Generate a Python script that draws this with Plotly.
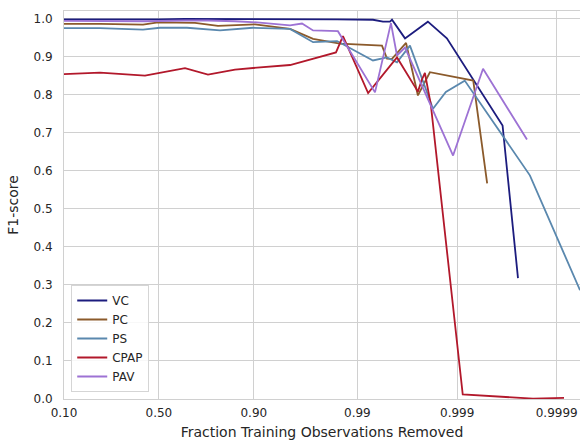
import numpy as np
import plotly.graph_objects as go

# ---- data (fractions of training observations removed, F1 scores) ----
vc_x = [0.1, 0.2036, 0.409, 0.506, 0.6467, 0.757, 0.8535, 0.9065, 0.9542, 0.9726, 0.9841,
        0.99301, 0.99445, 0.99528, 0.99549, 0.99666, 0.99803, 0.99873, 0.99965, 0.999755]
vc_y = [0.998, 0.998, 0.997, 0.998, 0.999, 0.999, 0.998, 0.998, 0.998, 0.998, 0.998,
        0.997, 0.992, 0.992, 0.997, 0.948, 0.992, 0.948, 0.719, 0.318]

pc_x = [0.1, 0.2036, 0.409, 0.4948, 0.6977, 0.797, 0.9025, 0.9542, 0.9726, 0.9851,
        0.99432, 0.99494, 0.99549, 0.99674, 0.99752, 0.99812, 0.99931, 0.99950]
pc_y = [0.986, 0.986, 0.984, 0.990, 0.989, 0.981, 0.985, 0.973, 0.947, 0.934,
        0.929, 0.895, 0.894, 0.936, 0.798, 0.859, 0.837, 0.567]

ps_x = [0.1, 0.2036, 0.409, 0.506, 0.657, 0.8046, 0.898, 0.9542, 0.9726, 0.9841,
        0.99301, 0.99494, 0.99598, 0.99702, 0.99825, 0.99870, 0.99916, 0.999814, 0.9999417]
ps_y = [0.975, 0.975, 0.971, 0.976, 0.976, 0.969, 0.976, 0.973, 0.938, 0.941,
        0.890, 0.898, 0.885, 0.929, 0.763, 0.807, 0.837, 0.588, 0.286]

cpap_x = [0.1, 0.2036, 0.420, 0.6467, 0.757, 0.8535, 0.9065, 0.9542, 0.9837, 0.9861,
          0.99219, 0.99598, 0.99752, 0.99774, 0.99789, 0.99816, 0.99912, 0.999827, 0.9999156]
cpap_y = [0.854, 0.858, 0.850, 0.870, 0.853, 0.866, 0.871, 0.878, 0.911, 0.954,
          0.804, 0.898, 0.808, 0.840, 0.857, 0.774, 0.012, 0.001, 0.003]

pav_x = [0.1, 0.2036, 0.420, 0.6467, 0.757, 0.8535, 0.9065, 0.9542, 0.9649, 0.9726, 0.9844,
         0.99333, 0.99538, 0.99598, 0.99666, 0.99890, 0.99945, 0.999801]
pav_y = [0.994, 0.994, 0.993, 0.995, 0.995, 0.993, 0.990, 0.982, 0.987, 0.969, 0.967,
         0.806, 0.988, 0.903, 0.924, 0.640, 0.868, 0.682]

tick_fracs = [0.10, 0.50, 0.90, 0.99, 0.999, 0.9999]
tick_labels = ["0.10", "0.50", "0.90", "0.99", "0.999", "0.9999"]
y_ticks = [0.0, 0.1, 0.2, 0.3, 0.4, 0.5, 0.6, 0.7, 0.8, 0.9, 1.0]

series = [
    ("VC", vc_x, vc_y, "#1c1c7e"),
    ("PC", pc_x, pc_y, "#8b5a2b"),
    ("PS", ps_x, ps_y, "#5a88ae"),
    ("CPAP", cpap_x, cpap_y, "#b2182b"),
    ("PAV", pav_x, pav_y, "#9d72d4"),
]


def logit(p):
    p = np.asarray(p, dtype=float)
    return np.log(p / (1.0 - p))


fig = go.Figure()
for name, xs, ys, col in series:
    fig.add_trace(go.Scatter(x=logit(xs), y=ys, mode="lines", name=name,
                             line=dict(color=col, width=1.8)))

font_col = "#262626"
fig.update_layout(
    width=580, height=443,
    margin=dict(l=64, r=0, t=11, b=44),
    paper_bgcolor="white", plot_bgcolor="white",
    font=dict(family="DejaVu Sans", size=12, color=font_col),
    showlegend=True,
    legend=dict(x=0.014, y=0.018, xanchor="left", yanchor="bottom",
                bgcolor="rgba(255,255,255,0.85)", bordercolor="#d5d5d5", borderwidth=1,
                font=dict(size=12, color=font_col), itemwidth=30,
                tracegroupgap=0),
)
fig.update_xaxes(
    range=[float(logit(0.1)), 9.75],
    tickvals=logit(tick_fracs).tolist(), ticktext=tick_labels,
    showgrid=True, gridcolor="#d0d0d0", gridwidth=1,
    showline=True, linecolor="#d0d0d0", linewidth=1, mirror=True,
    zeroline=False, ticks="", automargin=False, ticklabelstandoff=3,
    title=dict(text="Fraction Training Observations Removed", font=dict(size=14), standoff=7),
)
fig.update_yaxes(
    range=[0, 1.02],
    tickvals=y_ticks, tickformat=".1f",
    showgrid=True, gridcolor="#d0d0d0", gridwidth=1,
    showline=True, linecolor="#d0d0d0", linewidth=1, mirror=True,
    zeroline=False, ticks="", automargin=False, ticklabelstandoff=8,
    title=dict(text="F1-score", font=dict(size=14), standoff=11),
)

fig.write_html("out.html", config={"displayModeBar": False},
               post_script="document.body.style.margin='0';")
